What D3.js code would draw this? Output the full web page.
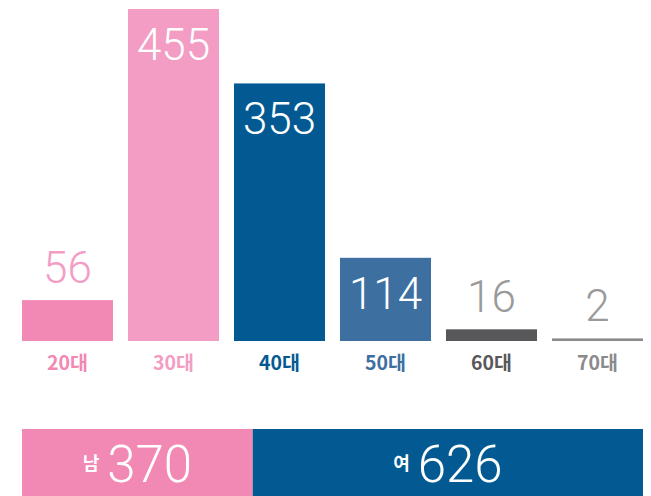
<!DOCTYPE html>
<html>
<head>
<meta charset="utf-8">
<script src="https://cdn.jsdelivr.net/npm/d3@7"></script>
<style>
  body { margin: 0; background: #fff; }
  svg { display: block; }
  .num { font-family: Roboto, "Noto Sans", sans-serif; font-weight: 300; }
  .cat { font-family: "Noto Sans CJK KR", sans-serif; font-weight: 700; }
</style>
</head>
<body>
<div id="chart"></div>
<script>
// age groups
var ageGroups = ['20대', '30대', '40대', '50대', '60대', '70대'];
var ageCounts = [56, 455, 353, 114, 16, 2];
var ageColors = ['#f288b4', '#f39dc5', '#035a92', '#3d6fa0', '#58585a', '#8a8a8c'];
var labelOutColors = ['#f39dc5', '#f39dc5', '#035a92', '#3d6fa0', '#9a9a9a', '#9a9a9a'];

// gender split
var genders = ['남', '여'];
var genderCounts = [370, 626];
var genderColors = ['#f288b4', '#035a92'];

var width = 651, height = 496;
var svg = d3.select('#chart').append('svg')
  .attr('width', width)
  .attr('height', height);

var x = d3.scaleBand()
  .domain(ageGroups)
  .range([22, 643])
  .paddingInner(0.1415)
  .paddingOuter(0);

var y = d3.scaleLinear()
  .domain([0, 455])
  .range([341, 9]);

var bars = svg.append('g').attr('class', 'bars')
  .selectAll('g')
  .data(ageGroups)
  .enter().append('g');

bars.append('rect')
  .attr('x', function (d) { return x(d); })
  .attr('width', x.bandwidth())
  .attr('y', function (d, i) { return Math.min(y(ageCounts[i]), y(0) - 2.6); })
  .attr('height', function (d, i) { return Math.max(y(0) - y(ageCounts[i]), 2.6); })
  .attr('fill', function (d, i) { return ageColors[i]; });

// value labels: inside for tall bars, above for short ones
bars.append('text')
  .attr('class', 'num')
  .attr('x', function (d) { return x(d) + x.bandwidth() / 2; })
  .attr('y', function (d, i) {
    var top = Math.min(y(ageCounts[i]), y(0) - 2.6);
    return (y(0) - top > 60) ? top + 51 : top - 17;
  })
  .attr('text-anchor', 'middle')
  .attr('font-size', 44)
  .attr('fill', function (d, i) {
    return (y(0) - y(ageCounts[i]) > 60) ? '#fff' : labelOutColors[i];
  })
  .text(function (d, i) { return ageCounts[i]; });

bars.append('text')
  .attr('class', 'cat')
  .attr('x', function (d) { return x(d) + x.bandwidth() / 2; })
  .attr('y', 370)
  .attr('text-anchor', 'middle')
  .attr('font-size', 19.5)
  .attr('fill', function (d, i) { return ageColors[i]; })
  .text(function (d) { return d; });

// gender stacked bar
var total = d3.sum(genderCounts);
var gx = d3.scaleLinear().domain([0, total]).range([22, 643]);
var offsets = d3.cumsum([0].concat(genderCounts));

var seg = svg.append('g').attr('class', 'gender')
  .selectAll('g')
  .data(genders)
  .enter().append('g');

seg.append('rect')
  .attr('x', function (d, i) { return gx(offsets[i]); })
  .attr('width', function (d, i) { return gx(offsets[i + 1]) - gx(offsets[i]); })
  .attr('y', 429)
  .attr('height', 67)
  .attr('fill', function (d, i) { return genderColors[i]; });

var lbl = seg.append('text')
  .attr('x', function (d, i) { return (gx(offsets[i]) + gx(offsets[i + 1])) / 2; })
  .attr('y', 482)
  .attr('text-anchor', 'middle')
  .attr('fill', '#fff');

lbl.append('tspan')
  .attr('class', 'cat')
  .attr('font-size', 18)
  .attr('dy', -12)
  .text(function (d) { return d; });

lbl.append('tspan')
  .attr('class', 'num')
  .attr('font-size', 51)
  .attr('dx', 8)
  .attr('dy', 12)
  .text(function (d, i) { return genderCounts[i]; });
</script>
</body>
</html>
